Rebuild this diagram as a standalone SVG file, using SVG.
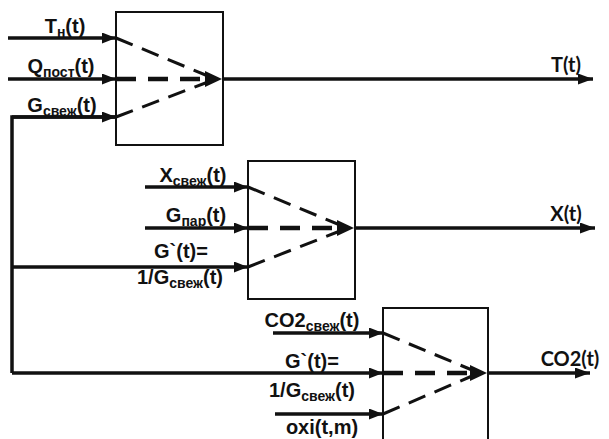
<svg xmlns="http://www.w3.org/2000/svg" width="609" height="439" viewBox="0 0 609 439">
<defs>
<marker id="ah" viewBox="0 0 14 11" refX="14" refY="5.5" markerWidth="14" markerHeight="11" markerUnits="userSpaceOnUse" orient="auto">
<path d="M0,0 L14,5.5 L0,11 Z" fill="#111"/>
</marker>
<marker id="ao" viewBox="0 0 15 11" refX="15" refY="5.5" markerWidth="15" markerHeight="11" markerUnits="userSpaceOnUse" orient="auto">
<path d="M0,0 L15,5.5 L0,11 Z" fill="#111"/>
</marker>
</defs>
<style>
.box{fill:#fff;stroke:#111;stroke-width:2}
.in{fill:none;stroke:#111;stroke-width:3.5}
.out{fill:none;stroke:#111;stroke-width:3.5}
.dd{fill:none;stroke:#111;stroke-width:3;stroke-dasharray:18 10}
.dm{fill:none;stroke:#111;stroke-width:4.5;stroke-dasharray:20 12}
.tip{fill:#111}
.lbl{font-family:"Liberation Sans",Arial,sans-serif;font-weight:bold;font-size:20px;fill:#111;text-anchor:middle}
.sub{font-size:14px}
.olbl{font-family:Lato,"Liberation Sans",sans-serif;font-weight:bold;font-size:20px;fill:#111;text-anchor:middle}
</style>
<rect width="609" height="439" fill="#fff"/>

<g id="block1">
<rect class="box" x="116" y="12" width="107" height="133"/>
<path class="dd" d="M116,38 L208,76"/>
<path class="dm" d="M116,79 L208,79"/>
<path class="dd" d="M116,117 L208,82"/>
<path class="tip" d="M205,71 L222,79 L205,87 Z"/>
</g>

<g id="block2">
<rect class="box" x="248" y="161" width="107" height="138"/>
<path class="dd" d="M248,187 L340,225"/>
<path class="dm" d="M248,228 L340,228"/>
<path class="dd" d="M248,267 L340,231"/>
<path class="tip" d="M337,220 L354,228 L337,236 Z"/>
</g>

<g id="block3">
<rect class="box" x="383" y="308" width="105" height="140"/>
<path class="dd" d="M383,333 L472,370"/>
<path class="dm" d="M383,373 L472,373"/>
<path class="dd" d="M383,414 L472,376"/>
<path class="tip" d="M470,365 L487,373 L470,381 Z"/>
</g>

<g id="connectors">
<path class="in" d="M8,38 H116" marker-end="url(#ah)"/>
<path class="in" d="M8,79 H116" marker-end="url(#ah)"/>
<path class="in" d="M116,117 H12 V373" />
<path class="in" d="M12,117 H116" marker-end="url(#ah)"/>
<path class="in" d="M12,267 H248" marker-end="url(#ah)"/>
<path class="in" d="M12,373 H383" marker-end="url(#ah)"/>
<path class="in" d="M145,187 H248" marker-end="url(#ah)"/>
<path class="in" d="M145,228 H248" marker-end="url(#ah)"/>
<path class="in" d="M273,333 H383" marker-end="url(#ah)"/>
<path class="in" d="M275,414 H383" marker-end="url(#ah)"/>
<path class="out" d="M223,79 H593" marker-end="url(#ao)"/>
<path class="out" d="M355,228 H595" marker-end="url(#ao)"/>
<path class="out" d="M488,373 H590" marker-end="url(#ao)"/>
</g>

<g id="labels">
<text class="lbl" x="65" y="33">T<tspan class="sub" dy="4">н</tspan><tspan dy="-4">(t)</tspan></text>
<text class="lbl" x="61" y="73">Q<tspan class="sub" dy="4">пост</tspan><tspan dy="-4">(t)</tspan></text>
<text class="lbl" x="62" y="112">G<tspan class="sub" dy="4">свеж</tspan><tspan dy="-4">(t)</tspan></text>
<text class="lbl" x="193" y="182">X<tspan class="sub" dy="4">свеж</tspan><tspan dy="-4">(t)</tspan></text>
<text class="lbl" x="196" y="222">G<tspan class="sub" dy="4">пар</tspan><tspan dy="-4">(t)</tspan></text>
<text class="lbl" x="181" y="258">G`(t)=</text>
<text class="lbl" x="180" y="284">1/G<tspan class="sub" dy="4">свеж</tspan><tspan dy="-4">(t)</tspan></text>
<text class="lbl" x="312" y="327">CO2<tspan class="sub" dy="4">свеж</tspan><tspan dy="-4">(t)</tspan></text>
<text class="lbl" x="312" y="368">G`(t)=</text>
<text class="lbl" x="312" y="397">1/G<tspan class="sub" dy="4">свеж</tspan><tspan dy="-4">(t)</tspan></text>
<text class="lbl" x="322" y="434">oxi(t,m)</text>
<text class="olbl" x="566" y="72">T(t)</text>
<text class="olbl" x="566" y="221">X(t)</text>
<text class="olbl" x="570" y="366">CO2(t)</text>
</g>
</svg>
